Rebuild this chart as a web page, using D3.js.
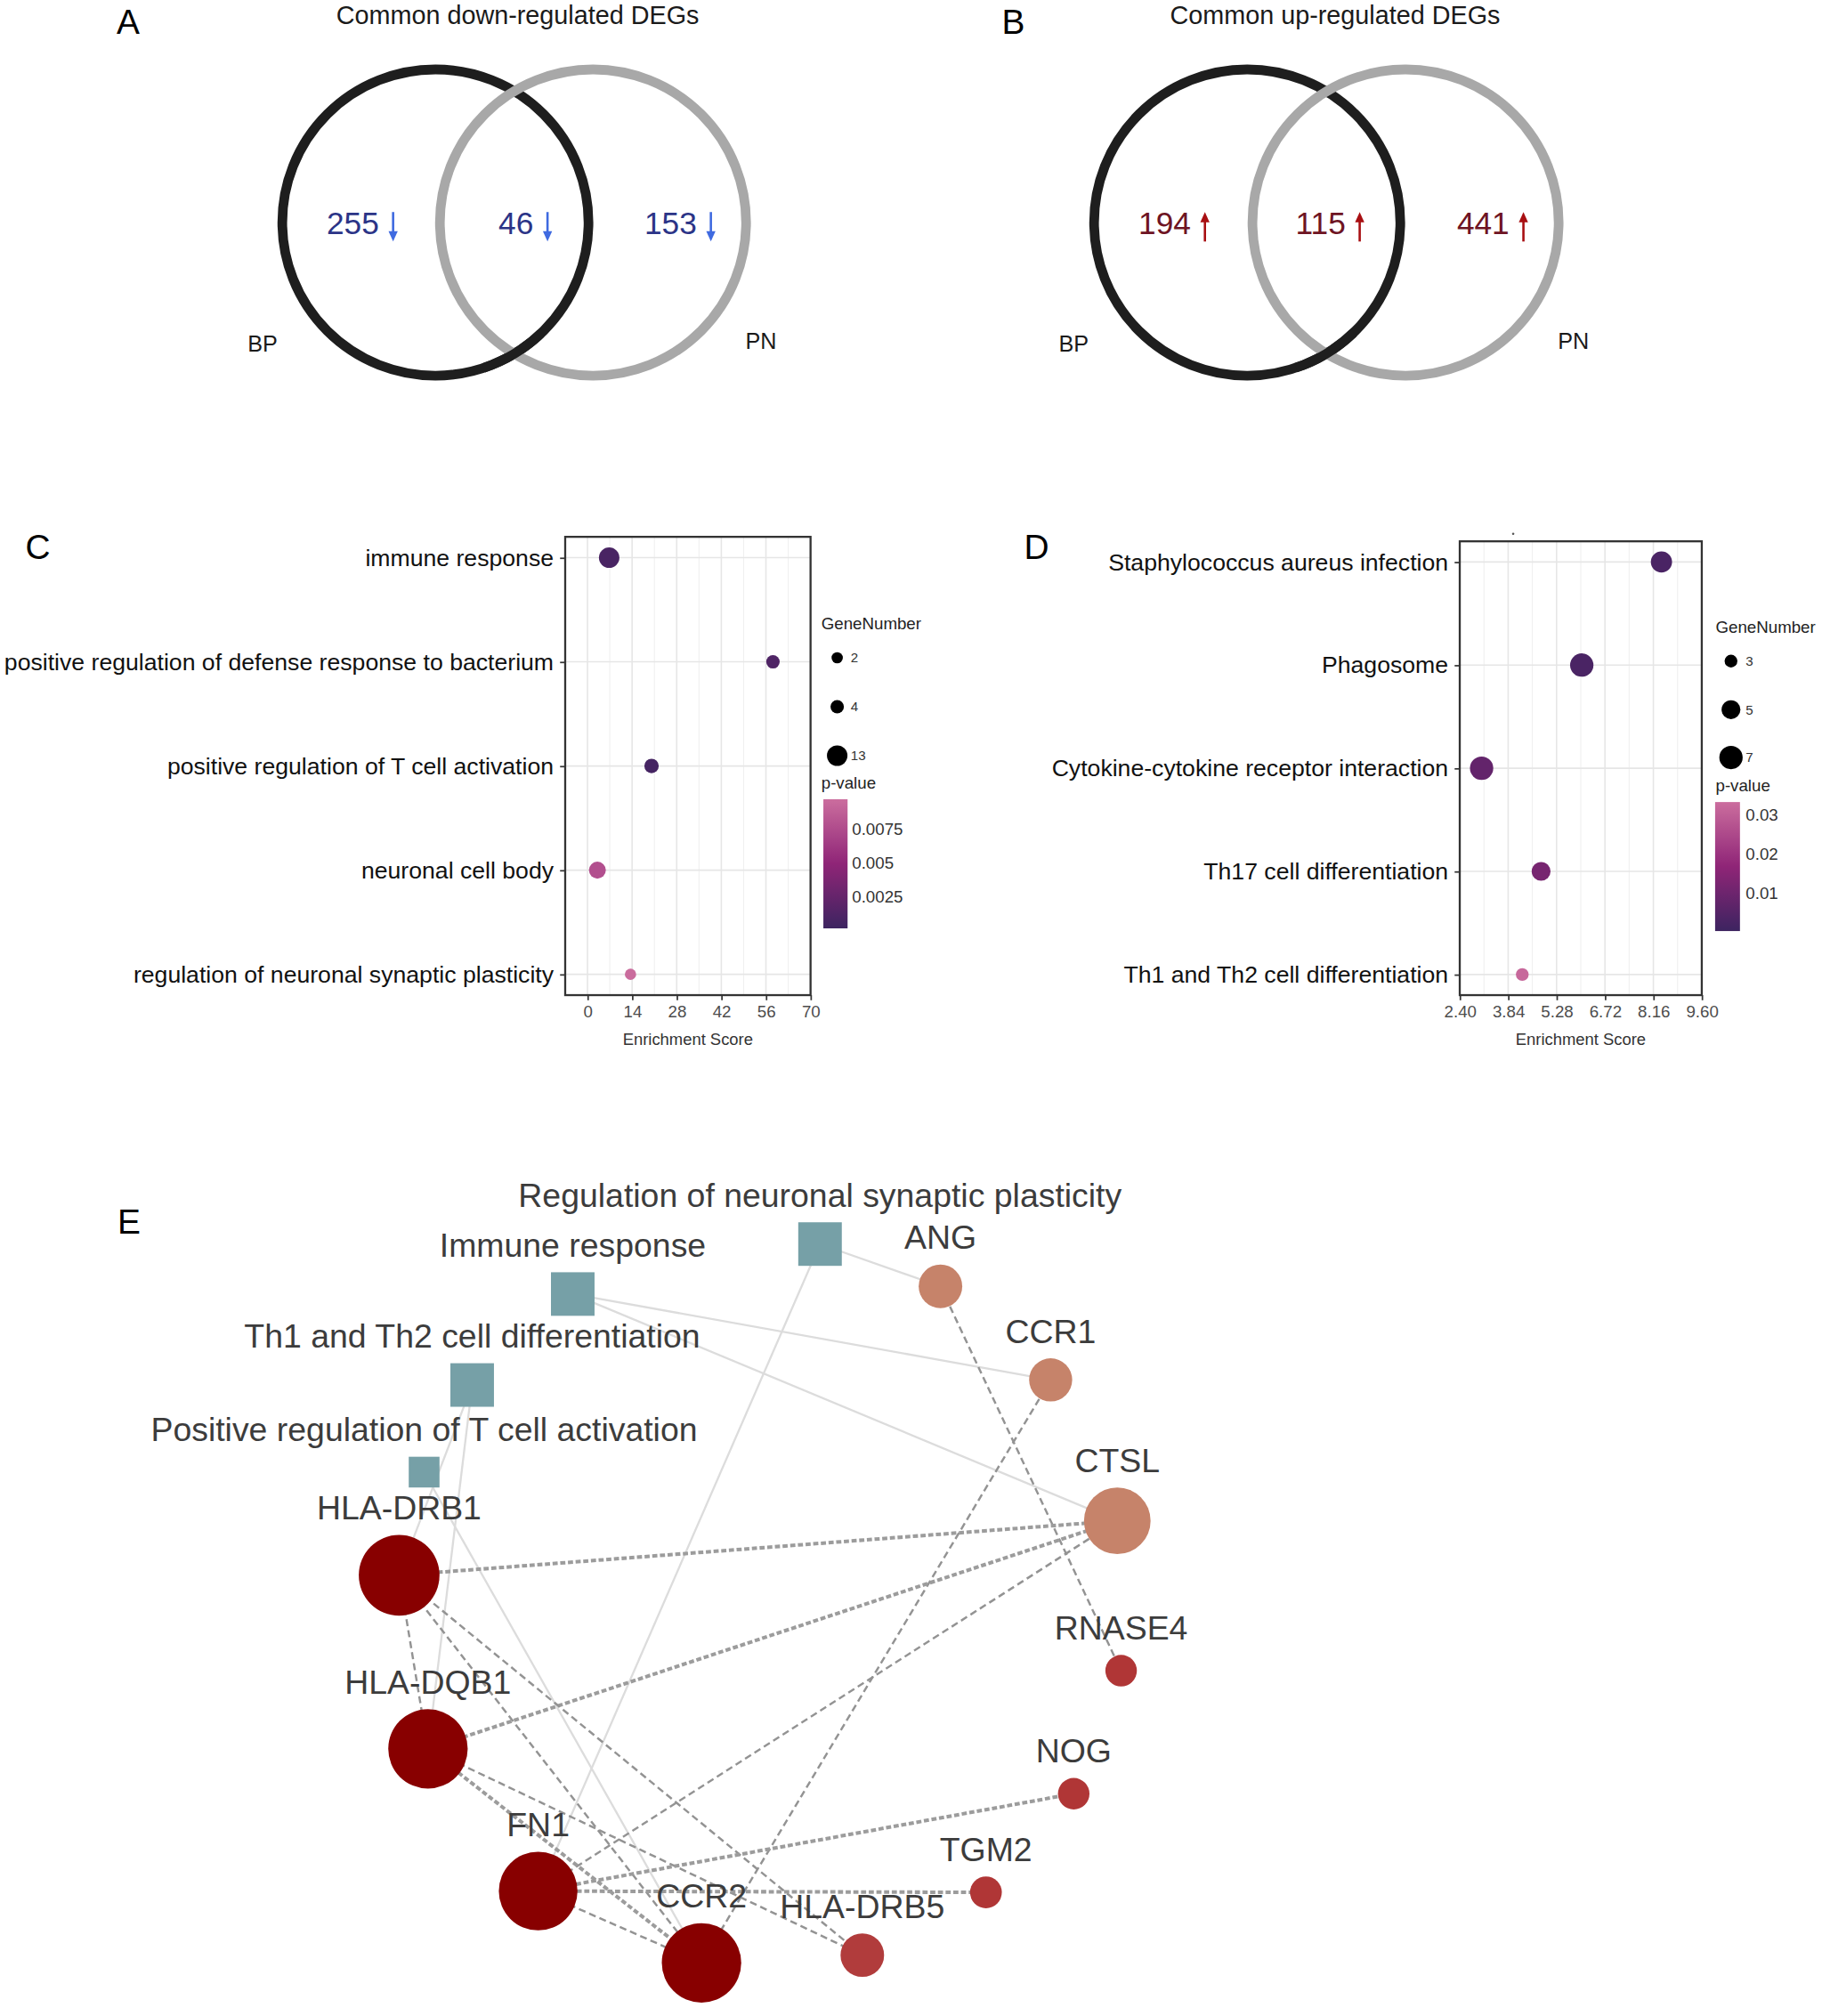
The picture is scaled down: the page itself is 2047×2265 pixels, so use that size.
<!DOCTYPE html>
<html><head><meta charset="utf-8">
<script src="https://cdn.jsdelivr.net/npm/d3@7"></script>
<style>body{margin:0;background:#fff} svg{display:block}</style>
</head><body>
<svg id="c" width="2047" height="2265" viewBox="0 0 1422 1573.5"></svg>
<script>
// ---------------- DATA ----------------
const vennSets = ["BP", "PN"];
const vennDownTitle = "Common down-regulated DEGs";
const vennDownCounts = [255, 46, 153];
const vennUpTitle = "Common up-regulated DEGs";
const vennUpCounts = [194, 115, 441];

const goTerms = ["immune response", "positive regulation of defense response to bacterium",
  "positive regulation of T cell activation", "neuronal cell body", "regulation of neuronal synaptic plasticity"];
const goScore = [6.8, 58.2, 20.1, 3.1, 13.5];
const goGenes = [13, 4, 5, 8, 2];
const goPval = [0.0008, 0.0012, 0.0006, 0.0077, 0.0096];
const goTicks = [0, 14, 28, 42, 56, 70];
const goSizeBreaks = [2, 4, 13];
const goPBreaks = [0.0025, 0.005, 0.0075];

const keggTerms = ["Staphylococcus aureus infection", "Phagosome", "Cytokine-cytokine receptor interaction",
  "Th17 cell differentiation", "Th1 and Th2 cell differentiation"];
const keggScore = [8.40, 6.03, 3.05, 4.82, 4.26];
const keggGenes = [6, 7, 7, 5, 3];
const keggPval = [0.003, 0.003, 0.008, 0.012, 0.032];
const keggTicks = [2.40, 3.84, 5.28, 6.72, 8.16, 9.60];
const keggSizeBreaks = [3, 5, 7];
const keggPBreaks = [0.01, 0.02, 0.03];

const netTerms = ["Regulation of neuronal synaptic plasticity", "Immune response",
  "Th1 and Th2 cell differentiation", "Positive regulation of T cell activation"];
const netGenes = ["ANG", "CCR1", "CTSL", "RNASE4", "NOG", "TGM2", "HLA-DRB5", "CCR2", "FN1", "HLA-DQB1", "HLA-DRB1"];
const netTermLinks = [
  ["Regulation of neuronal synaptic plasticity", "ANG"],
  ["Regulation of neuronal synaptic plasticity", "FN1"],
  ["Immune response", "CCR1"],
  ["Immune response", "CTSL"],
  ["Th1 and Th2 cell differentiation", "HLA-DRB1"],
  ["Th1 and Th2 cell differentiation", "HLA-DQB1"],
  ["Positive regulation of T cell activation", "CCR2"]
];
const netGeneLinks = [
  ["ANG", "RNASE4", "dash"], ["CCR1", "CCR2", "dash"],
  ["CTSL", "HLA-DRB1", "dot"], ["CTSL", "HLA-DQB1", "dot"], ["CTSL", "FN1", "dash"],
  ["HLA-DRB1", "HLA-DQB1", "dash"], ["HLA-DRB1", "CCR2", "dash"], ["HLA-DRB1", "HLA-DRB5", "dash"],
  ["HLA-DQB1", "CCR2", "dot"], ["HLA-DQB1", "HLA-DRB5", "dash"],
  ["FN1", "CCR2", "dash"], ["FN1", "NOG", "dot"], ["FN1", "TGM2", "dot"]
];

// ---------------- LAYOUT / STYLE ----------------
const FONT = "'Liberation Sans', Arial, Helvetica, sans-serif";
const svg = d3.select("#c");

const panelLabels = [["A", 100, 26.4], ["B", 790.8, 26.4], ["C", 29.5, 436], ["D", 809, 436], ["E", 100.7, 963]];
svg.selectAll("text.plabel").data(panelLabels).join("text")
  .attr("x", d => d[1]).attr("y", d => d[2]).attr("text-anchor", "middle")
  .attr("font-family", FONT).attr("font-size", 27).attr("fill", "#000").text(d => d[0]);

// ---------- Venn ----------
function venn(cxL, cxR, cy, title, titleX, counts, numColor, arrColor, up, setLabelPos) {
  const g = svg.append("g");
  const r = 119.5, w = 7.5;
  g.append("text").attr("x", titleX).attr("y", 18.5).attr("text-anchor", "middle")
    .attr("font-family", FONT).attr("font-size", 20).attr("fill", "#1a1a1a").text(title);
  const circles = [{cx: cxL, col: "#1e1e1e"}, {cx: cxR, col: "#a8a8a8"}];
  g.selectAll("circle").data(circles).join("circle")
    .attr("cx", d => d.cx).attr("cy", cy).attr("r", r)
    .attr("fill", "none").attr("stroke", d => d.col).attr("stroke-width", w);
  // weave: black over gray at bottom intersection
  const half = (cxR - cxL) / 2;
  const th = Math.PI - Math.asin(half / r);
  g.append("path").attr("transform", `translate(${cxL},${cy})`)
    .attr("d", d3.arc()({innerRadius: r - w / 2, outerRadius: r + w / 2, startAngle: th - 0.22, endAngle: th + 0.22}))
    .attr("fill", "#1e1e1e");
  const mid = (cxL + cxR) / 2;
  const ends = [cxL - 44, mid + 15, cxR + 81];
  counts.forEach((c, i) => {
    g.append("text").attr("x", ends[i]).attr("y", 183).attr("text-anchor", "end")
      .attr("font-family", FONT).attr("font-size", 24.5).attr("fill", numColor).text(c);
    const ax = ends[i] + 11;
    const yTop = 165.5, yBot = 188.5;
    if (up) {
      g.append("line").attr("x1", ax).attr("x2", ax).attr("y1", yTop + 6).attr("y2", yBot)
        .attr("stroke", arrColor).attr("stroke-width", 1.8);
      g.append("path").attr("d", `M${ax - 3.6},${yTop + 8} L${ax},${yTop} L${ax + 3.6},${yTop + 8} Z`).attr("fill", arrColor);
    } else {
      g.append("line").attr("x1", ax).attr("x2", ax).attr("y1", yTop).attr("y2", yBot - 6)
        .attr("stroke", arrColor).attr("stroke-width", 1.8);
      g.append("path").attr("d", `M${ax - 3.6},${yBot - 8} L${ax},${yBot} L${ax + 3.6},${yBot - 8} Z`).attr("fill", arrColor);
    }
  });
  vennSets.forEach((s, i) => {
    g.append("text").attr("x", setLabelPos[i][0]).attr("y", setLabelPos[i][1]).attr("text-anchor", "middle")
      .attr("font-family", FONT).attr("font-size", 17.5).attr("fill", "#1a1a1a").text(s);
  });
}
venn(339.8, 462.8, 173.7, vennDownTitle, 404, vennDownCounts, "#2b3487", "#3f6ae0", false, [[205, 274.5], [594, 272.5]]);
venn(973.4, 1097, 173.7, vennUpTitle, 1042, vennUpCounts, "#6e1423", "#a80f12", true, [[838, 274.5], [1228, 272.5]]);

// ---------- Dot plots ----------
const colStops = ["#3d2460", "#8f2577", "#cb6d9e"];
function dotPanel(cfg) {
  const g = svg.append("g");
  const x = d3.scaleLinear().domain(cfg.domain).range([cfg.x0, cfg.x1]);
  const y = d3.scalePoint().domain(cfg.terms).range([cfg.y0, cfg.y1]).padding(0.2);
  const area = d3.scaleLinear().domain(cfg.sizeDomain).range(cfg.areaRange);
  const rr = n => Math.sqrt(area(n));
  const pd = cfg.pDomain;
  const col = d3.scaleLinear().domain([pd[0], (pd[0] + pd[1]) / 2, pd[1]]).range(colStops).interpolate(d3.interpolateRgb);

  // grid
  const majors = cfg.ticks;
  const minors = [];
  for (let i = 0; i < majors.length - 1; i++) minors.push((majors[i] + majors[i + 1]) / 2);
  g.selectAll("line.minor").data(minors).join("line")
    .attr("x1", d => x(d)).attr("x2", d => x(d)).attr("y1", cfg.y0).attr("y2", cfg.y1)
    .attr("stroke", "#f0f0f0").attr("stroke-width", 0.8);
  g.selectAll("line.majx").data(majors).join("line")
    .attr("x1", d => x(d)).attr("x2", d => x(d)).attr("y1", cfg.y0).attr("y2", cfg.y1)
    .attr("stroke", "#e6e6e6").attr("stroke-width", 1.1);
  g.selectAll("line.majy").data(cfg.terms).join("line")
    .attr("x1", cfg.x0).attr("x2", cfg.x1).attr("y1", d => y(d)).attr("y2", d => y(d))
    .attr("stroke", "#e6e6e6").attr("stroke-width", 1.1);

  // points
  const pts = cfg.terms.map((t, i) => ({t, s: cfg.scores[i], n: cfg.genes[i], p: cfg.pvals[i]}));
  g.selectAll("circle.pt").data(pts).join("circle")
    .attr("cx", d => x(d.s)).attr("cy", d => y(d.t)).attr("r", d => rr(d.n))
    .attr("fill", d => col(d.p));

  // border
  g.append("rect").attr("x", cfg.x0).attr("y", cfg.y0).attr("width", cfg.x1 - cfg.x0).attr("height", cfg.y1 - cfg.y0)
    .attr("fill", "none").attr("stroke", "#333").attr("stroke-width", 1.6);

  // axes
  const xa = g.append("g").attr("transform", `translate(0,${cfg.y1})`)
    .call(d3.axisBottom(x).tickValues(majors).tickSize(4).tickPadding(4).tickFormat(cfg.fmt));
  xa.select(".domain").remove();
  xa.selectAll("line").attr("stroke", "#333").attr("stroke-width", 1.2);
  xa.selectAll("text").attr("font-family", FONT).attr("font-size", 13).attr("fill", "#4d4d4d");
  const ya = g.append("g").attr("transform", `translate(${cfg.x0},0)`)
    .call(d3.axisLeft(y).tickSize(4).tickPadding(5));
  ya.select(".domain").remove();
  ya.selectAll("line").attr("stroke", "#333").attr("stroke-width", 1.2);
  ya.selectAll("text").attr("font-family", FONT).attr("font-size", 18.5).attr("fill", "#111");

  g.append("text").attr("x", (cfg.x0 + cfg.x1) / 2).attr("y", 815.5).attr("text-anchor", "middle")
    .attr("font-family", FONT).attr("font-size", 12.8).attr("fill", "#333").text("Enrichment Score");

  // size legend
  const L = cfg.leg;
  g.append("text").attr("x", L.x).attr("y", L.titleY).attr("font-family", FONT).attr("font-size", 13)
    .attr("fill", "#222").text("GeneNumber");
  g.selectAll("circle.lg").data(cfg.sizeBreaks).join("circle")
    .attr("cx", L.dotX).attr("cy", (d, i) => L.dotYs[i]).attr("r", d => rr(d)).attr("fill", "#000");
  g.selectAll("text.lg").data(cfg.sizeBreaks).join("text")
    .attr("x", L.labX).attr("y", (d, i) => L.dotYs[i] + 3.8).attr("font-family", FONT).attr("font-size", 10.5)
    .attr("fill", "#333").text(d => d);
  // color legend
  g.append("text").attr("x", L.x).attr("y", L.pY).attr("font-family", FONT).attr("font-size", 13)
    .attr("fill", "#222").text("p-value");
  const gid = "grad" + cfg.id;
  const grad = svg.append("defs").append("linearGradient").attr("id", gid)
    .attr("x1", 0).attr("y1", 1).attr("x2", 0).attr("y2", 0);
  d3.range(0, 1.0001, 0.1).forEach(t => {
    grad.append("stop").attr("offset", t).attr("stop-color", col(pd[0] + t * (pd[1] - pd[0])));
  });
  g.append("rect").attr("x", L.barX).attr("y", L.barY0).attr("width", L.barW).attr("height", L.barY1 - L.barY0)
    .attr("fill", `url(#${gid})`);
  const cb = d3.scaleLinear().domain(pd).range([L.barY1, L.barY0]);
  g.selectAll("text.cb").data(cfg.pBreaks).join("text")
    .attr("x", L.cbLabX).attr("y", d => cb(d) + 4.6).attr("font-family", FONT).attr("font-size", 13)
    .attr("fill", "#333").text(d => d);
}

dotPanel({
  id: "C", terms: goTerms, scores: goScore, genes: goGenes, pvals: goPval, ticks: goTicks,
  domain: [-7, 70], x0: 441.1, x1: 632.6, y0: 419, y1: 776.7, fmt: d3.format("d"),
  sizeDomain: [2, 13], areaRange: [19.4, 64], sizeBreaks: goSizeBreaks,
  pDomain: [0.00013, 0.00968], pBreaks: goPBreaks,
  leg: {x: 641, titleY: 491.5, dotX: 653.4, dotYs: [513.4, 551.6, 589.8], labX: 664, pY: 615.6,
        barX: 642.6, barW: 18.9, barY0: 623.8, barY1: 724.6, cbLabX: 665}
});
dotPanel({
  id: "D", terms: keggTerms, scores: keggScore, genes: keggGenes, pvals: keggPval, ticks: keggTicks,
  domain: [2.4, 9.6], x0: 1139.3, x1: 1328.2, y0: 422.5, y1: 776.7, fmt: d3.format(".2f"),
  sizeDomain: [3, 7], areaRange: [25, 83], sizeBreaks: keggSizeBreaks,
  pDomain: [0.0003, 0.0332], pBreaks: keggPBreaks,
  leg: {x: 1339, titleY: 494, dotX: 1351, dotYs: [516, 553.9, 591.2], labX: 1362.5, pY: 617.6,
        barX: 1338.6, barW: 19.4, barY0: 626, barY1: 726.7, cbLabX: 1362.5}
});
svg.append("circle").attr("cx", 1181).attr("cy", 416.6).attr("r", 0.9).attr("fill", "#555");

// ---------- Network ----------
const nodePos = {
  "Regulation of neuronal synaptic plasticity": [640, 971, 34],
  "Immune response": [447, 1010, 34],
  "Th1 and Th2 cell differentiation": [368.5, 1081, 34],
  "Positive regulation of T cell activation": [331, 1149, 24],
  "ANG": [734, 1004, 17], "CCR1": [820, 1077, 16.8], "CTSL": [872, 1187, 26],
  "RNASE4": [875, 1304, 12.3], "NOG": [838, 1400, 12.3], "TGM2": [769.5, 1477, 12.4],
  "HLA-DRB5": [673, 1526, 17], "CCR2": [547.5, 1532, 31], "FN1": [420, 1476, 30.7],
  "HLA-DQB1": [334, 1365, 31], "HLA-DRB1": [311.5, 1229.5, 31.5]
};
const geneColor = {
  "ANG": "#c6836a", "CCR1": "#c6836a", "CTSL": "#c6836a",
  "RNASE4": "#b03636", "NOG": "#b03636", "TGM2": "#b03636", "HLA-DRB5": "#b13c3c",
  "CCR2": "#880000", "FN1": "#880000", "HLA-DQB1": "#880000", "HLA-DRB1": "#880000"
};
const net = svg.append("g");
net.selectAll("line.tl").data(netTermLinks).join("line")
  .attr("x1", d => nodePos[d[0]][0]).attr("y1", d => nodePos[d[0]][1])
  .attr("x2", d => nodePos[d[1]][0]).attr("y2", d => nodePos[d[1]][1])
  .attr("stroke", "#dcdcdc").attr("stroke-width", 1.6);
net.selectAll("line.gl").data(netGeneLinks).join("line")
  .attr("x1", d => nodePos[d[0]][0]).attr("y1", d => nodePos[d[0]][1])
  .attr("x2", d => nodePos[d[1]][0]).attr("y2", d => nodePos[d[1]][1])
  .attr("stroke", d => d[2] === "dot" ? "#9c9c9c" : "#939393")
  .attr("stroke-width", d => d[2] === "dot" ? 2.8 : 1.7)
  .attr("stroke-dasharray", d => d[2] === "dot" ? "4,2" : "5.5,3.2");
net.selectAll("rect.term").data(netTerms).join("rect")
  .attr("x", d => nodePos[d][0] - nodePos[d][2] / 2).attr("y", d => nodePos[d][1] - nodePos[d][2] / 2)
  .attr("width", d => nodePos[d][2]).attr("height", d => nodePos[d][2]).attr("fill", "#76a0a7");
net.selectAll("circle.gene").data(netGenes).join("circle")
  .attr("cx", d => nodePos[d][0]).attr("cy", d => nodePos[d][1]).attr("r", d => nodePos[d][2])
  .attr("fill", d => geneColor[d]);
net.selectAll("text.term").data(netTerms).join("text")
  .attr("x", d => nodePos[d][0]).attr("y", d => nodePos[d][1] - nodePos[d][2] / 2 - 12)
  .attr("text-anchor", "middle").attr("font-family", FONT).attr("font-size", 26).attr("fill", "#3c3c3c").text(d => d);
net.selectAll("text.gene").data(netGenes).join("text")
  .attr("x", d => nodePos[d][0]).attr("y", d => nodePos[d][1] - nodePos[d][2] - 12)
  .attr("text-anchor", "middle").attr("font-family", FONT).attr("font-size", 26).attr("fill", "#3c3c3c").text(d => d);
</script>
</body></html>
